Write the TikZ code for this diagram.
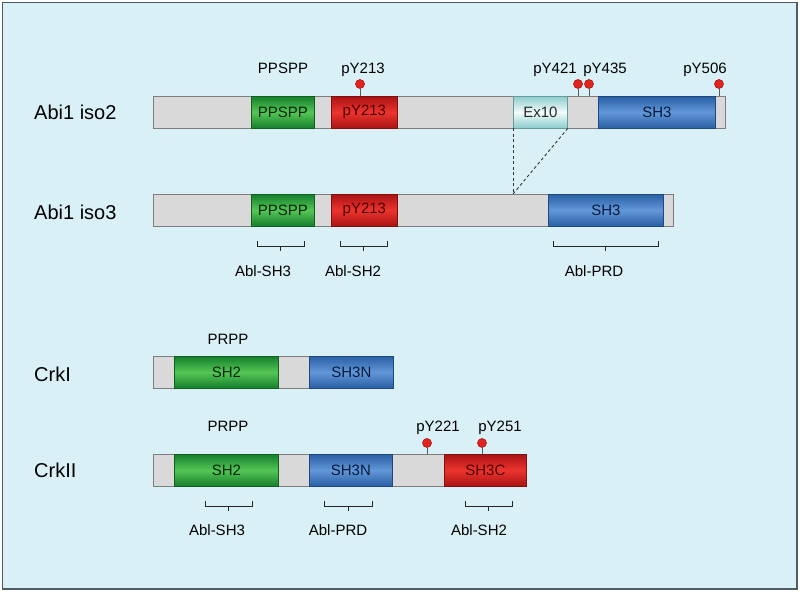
\documentclass[tikz,border=0pt]{standalone}
\usepackage{fontspec}
\setmainfont{Liberation Sans}
\definecolor{panelbg}{RGB}{218, 240, 247}
\definecolor{panelline}{RGB}{80, 92, 98}
\definecolor{bargray}{RGB}{217, 217, 217}
\definecolor{bardraw}{RGB}{125, 125, 125}
\definecolor{greendark}{RGB}{22, 128, 45}
\definecolor{greenlight}{RGB}{85, 198, 85}
\definecolor{greentext}{RGB}{4, 38, 10}
\definecolor{reddark}{RGB}{170, 20, 20}
\definecolor{redlight}{RGB}{236, 52, 46}
\definecolor{redtext}{RGB}{78, 0, 0}
\definecolor{bluedark}{RGB}{42, 96, 165}
\definecolor{bluelight}{RGB}{98, 152, 216}
\definecolor{bluetext}{RGB}{5, 25, 60}
\definecolor{tealdark}{RGB}{140, 205, 205}
\definecolor{teallight}{RGB}{244, 251, 251}
\definecolor{tealtext}{RGB}{40, 40, 40}
\definecolor{pindot}{RGB}{226, 36, 30}
\usetikzlibrary{positioning, calc}
\tikzset{
  protbar/.style={rectangle, draw=bardraw, fill=bargray, line width=1pt, minimum width=#1, minimum height=31.5pt, inner sep=0pt, anchor=north west},
  domain/.style={rectangle, draw=#1dark!75!black, top color=#1dark, bottom color=#1dark, middle color=#1light, text=#1text, line width=0.8pt, minimum height=31.5pt, inner sep=0pt, anchor=north west, font=\fontsize{15}{18}\selectfont},
  lbl/.style={font=\fontsize{15}{18}\selectfont, anchor=base, inner sep=0pt},
  protname/.style={font=\fontsize{20}{24}\selectfont, anchor=base west, inner sep=0pt},
  ptyr/.style={circle, fill=pindot, draw=reddark, line width=0.6pt, minimum size=9pt, inner sep=0pt},
  stalk/.style={draw=black!65, line width=1pt},
  brace/.style={draw=black!85, line width=1pt},
  splice/.style={draw=black!80, line width=0.9pt, dash pattern=on 3pt off 2.5pt},
}
\begin{document}
\begin{tikzpicture}[x=1pt, y=-1pt]
\useasboundingbox (0,0) rectangle (800,592);
\fill[white] (0,0) rectangle (800,592);
\draw[fill=panelbg, draw=panelline, line width=1.5pt] (2.5,2.5) rectangle (797,589);

% Abi1 isoform 2
\node[protname] (n-iso2) at (34,119) {Abi1 iso2};
\node[protbar=572pt] (iso2) at (153,96) {};
\node[domain=green, minimum width=63pt] (ppspp2) at (251,96) {PPSPP};
\node[domain=red, minimum width=66pt] (y213b2) at (331,96) {pY213};
\node[domain=teal, minimum width=54pt] (ex10) at (513,96) {Ex10};
\node[domain=blue, minimum width=117pt] (sh3b2) at (598,96) {SH3};
\node[ptyr] (p213) at (360,84) {};
\node[ptyr] (p421) at (578,84) {};
\node[ptyr] (p435) at (589,84) {};
\node[ptyr] (p506) at (719,84) {};
\foreach \p in {p213, p421, p435, p506}
  \draw[stalk] (\p) -- (\p |- iso2.north);
\node[lbl] (t-ppspp) at (283,73) {PPSPP};
\node[lbl] (t-y213) at (363,73) {pY213};
\node[lbl] (t-y421) at (555,73) {pY421};
\node[lbl] (t-y435) at (605,73) {pY435};
\node[lbl] (t-y506) at (705,73) {pY506};

% Abi1 isoform 3
\node[protname] (n-iso3) at (34,219) {Abi1 iso3};
\node[protbar=520pt] (iso3) at (153,194) {};
\node[domain=green, minimum width=63pt] (ppspp3) at (251,194) {PPSPP};
\node[domain=red, minimum width=66pt] (y213b3) at (331,194) {pY213};
\node[domain=blue, minimum width=115pt] (sh3b3) at (548,194) {SH3};
\coordinate (splicept) at (513,194);
\draw[splice] (ex10.south west) -- (splicept);
\draw[splice] (ex10.south east) -- (splicept);
\node[lbl] (b-sh3a) at (263,276.5) {Abl-SH3};
\node[lbl] (b-sh2a) at (353,276.5) {Abl-SH2};
\node[lbl] (b-prda) at (594,276.5) {Abl-PRD};

% CrkI
\node[protname] (n-crk1) at (34,381) {CrkI};
\node[protbar=240pt] (crk1) at (153,356) {};
\node[domain=green, minimum width=104pt] (sh2c1) at (174,356) {SH2};
\node[domain=blue, minimum width=84pt] (sh3nc1) at (309,356) {SH3N};
\node[lbl] (t-prpp1) at (228,344) {PRPP};

% CrkII
\node[protname] (n-crk2) at (34,477) {CrkII};
\node[protbar=373pt] (crk2) at (153,454) {};
\node[domain=green, minimum width=104pt] (sh2c2) at (174,454) {SH2};
\node[domain=blue, minimum width=83pt] (sh3nc2) at (309,454) {SH3N};
\node[domain=red, minimum width=82pt] (sh3cc2) at (444,454) {SH3C};
\node[ptyr] (p221) at (427,443) {};
\node[ptyr] (p251) at (482,443) {};
\foreach \p in {p221, p251}
  \draw[stalk] (\p) -- (\p |- crk2.north);
\node[lbl] (t-prpp2) at (228,431.5) {PRPP};
\node[lbl] (t-y221) at (438,431.5) {pY221};
\node[lbl] (t-y251) at (500,431.5) {pY251};
\node[lbl] (b-sh3b) at (217,535) {Abl-SH3};
\node[lbl] (b-prdb) at (338,535) {Abl-PRD};
\node[lbl] (b-sh2b) at (479,535) {Abl-SH2};

% binding brackets
\foreach \xa/\xb/\yy in {257/304/241, 340/387/241, 553/658/241, 205/252/501, 324/372/501, 465/512/501}
  \draw[brace] (\xa,\yy) -- (\xa,\yy+5.5) -- (\xb,\yy+5.5) -- (\xb,\yy)
    ({(\xa+\xb)/2},\yy+5.5) -- ++(0,4.5);
\end{tikzpicture}
\end{document}
